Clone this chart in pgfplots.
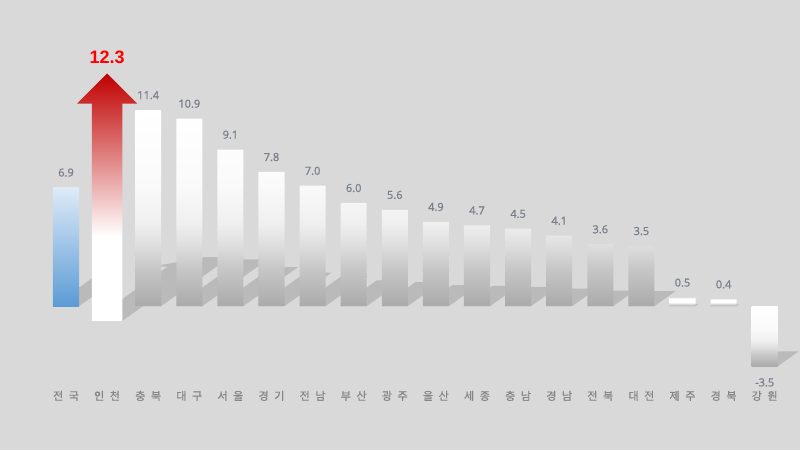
\documentclass[border=0pt]{standalone}
\usepackage{fontspec}
\setmainfont{Noto Sans CJK KR}
\newfontfamily\labfont{Noto Sans CJK KR}[FakeBold=0.8]
\newfontfamily\valfont{Open Sans}[FakeBold=1.2]
\newfontfamily\redfont{Liberation Sans}
\usepackage{pgfplots}
\pgfplotsset{compat=1.18}

\definecolor{bgc}{HTML}{D9D9D9}
\definecolor{valgray}{HTML}{7A808A}
\definecolor{labgray}{HTML}{858585}
\definecolor{gb1}{HTML}{AAAAAA}
\definecolor{gb2}{HTML}{C8C8C8}
\definecolor{gb3}{HTML}{DCDCDC}
\definecolor{gb4}{HTML}{EFEFEF}
\definecolor{gb5}{HTML}{FAFAFA}
\definecolor{bl1}{HTML}{5B9BD5}
\definecolor{bl2}{HTML}{DEEBF7}
\definecolor{rd1}{HTML}{C00000}

% gradients (box of a path = 25bp..75bp)
\pgfdeclareverticalshading{graybar}{100bp}{color(0bp)=(gb1); color(25bp)=(gb1); color(35bp)=(gb2); color(40bp)=(gb3); color(46bp)=(gb4); color(56bp)=(gb5); color(75bp)=(white); color(100bp)=(white)}
\pgfdeclareverticalshading{smallbar}{100bp}{color(0bp)=(gb1); color(25bp)=(gb1); color(38bp)=(gb3); color(48bp)=(white); color(70bp)=(white); color(75bp)=(gb4); color(100bp)=(gb4)}
\pgfdeclareverticalshading{bluebar}{100bp}{color(0bp)=(bl1); color(25bp)=(bl1); color(75bp)=(bl2); color(100bp)=(bl2)}
\pgfdeclareverticalshading{redarrow}{100bp}{color(0bp)=(white); color(42bp)=(white); color(75bp)=(rd1); color(100bp)=(rd1)}

\newcommand{\g}{\hspace{0.5em}}

\begin{document}
\begin{tikzpicture}
\fill[bgc] (0,-48pt) rectangle (600pt,289.5pt);
\begin{axis}[
  scale only axis,
  width=600pt, height=289.5pt,
  xmin=-1.606, xmax=17.859,
  ymin=-4.65, ymax=17.79,
  clip=false,
  axis line style={draw=none},
  major tick length=0pt,
  ytick=\empty,
  xtick={0,...,17},
  xticklabels={전\g 국,인\g 천,충\g 북,대\g 구,서\g 울,경\g 기,전\g 남,부\g 산,광\g 주,울\g 산,세\g 종,충\g 남,경\g 남,전\g 북,대\g 전,제\g 주,경\g 북,강\g 원},
  xticklabel style={font=\labfont\fontsize{8.3}{10}\selectfont, text=labgray},
  bar width=0.633,
  every node near coord/.append style={text=valgray, font=\valfont\fontsize{8.25}{10}\selectfont},
]

% perspective shadows
\addplot[draw=none, fill=black, fill opacity=0.14, empty line=jump] coordinates {
(-0.316,0) (0.316,0) (1.327,1.725) (0.695,1.725)

(0.627,-0.855) (1.373,-0.855) (3.224,2.304) (3.581,2.304) (3.107,2.741) (2.121,2.304) (2.478,2.304)

(1.684,0) (2.316,0) (3.986,2.85) (3.354,2.85)

(2.684,0) (3.316,0) (4.913,2.725) (4.281,2.725)

(3.684,0) (4.316,0) (5.649,2.275) (5.017,2.275)

(4.684,0) (5.316,0) (6.459,1.95) (5.827,1.95)

(5.684,0) (6.316,0) (7.342,1.75) (6.710,1.75)

(6.684,0) (7.316,0) (8.195,1.5) (7.563,1.5)

(7.684,0) (8.316,0) (9.136,1.4) (8.504,1.4)

(8.684,0) (9.316,0) (10.034,1.225) (9.402,1.225)

(9.684,0) (10.316,0) (11.005,1.175) (10.373,1.175)

(10.684,0) (11.316,0) (11.975,1.125) (11.343,1.125)

(11.684,0) (12.316,0) (12.917,1.025) (12.285,1.025)

(12.684,0) (13.316,0) (13.843,0.9) (13.211,0.9)

(13.684,0) (14.316,0) (14.829,0.875) (14.197,0.875)

(14.684,0) (15.316,0) (15.389,0.125) (14.757,0.125)

(15.684,0) (16.316,0) (16.375,0.1) (15.743,0.1)

(16.684,-3.5) (17.316,-3.5) (17.829,-2.625) (17.197,-2.625)
};

% national average
\addplot[ybar, bar shift=0pt, draw=none, shading=bluebar,
  nodes near coords, point meta=explicit symbolic,
  every node near coord/.append style={anchor=base, yshift=8.25pt}]
  coordinates {(0,6.9) [6.9]};

% regions, positive
\addplot[ybar, bar shift=0pt, draw=none, shading=graybar,
  nodes near coords, point meta=explicit symbolic,
  every node near coord/.append style={anchor=base, yshift=8.25pt}]
  coordinates {
  (2,11.4) [11.4]
  (3,10.9) [10.9]
  (4,9.1) [9.1]
  (5,7.8) [7.8]
  (6,7.0) [7.0]
  (7,6.0) [6.0]
  (8,5.6) [5.6]
  (9,4.9) [4.9]
  (10,4.7) [4.7]
  (11,4.5) [4.5]
  (12,4.1) [4.1]
  (13,3.6) [3.6]
  (14,3.5) [3.5]
  };

% regions, small positive
\addplot[ybar, bar shift=0pt, draw=none, shading=smallbar,
  nodes near coords, point meta=explicit symbolic,
  every node near coord/.append style={anchor=base, yshift=8.25pt}]
  coordinates {
  (15,0.5) [0.5]
  (16,0.4) [0.4]
  };

% region, negative
\addplot[ybar, bar shift=0pt, draw=none, shading=graybar,
  nodes near coords, point meta=explicit symbolic,
  every node near coord/.append style={anchor=base, yshift=-15pt}]
  coordinates {(17,-3.5) [-3.5]};

% Incheon arrow (12.3)
\addplot[draw=none, shading=redarrow] coordinates {
  (0.627,-0.855) (1.373,-0.855) (1.373,11.78) (1.73,11.78) (1,13.53) (0.27,11.78) (0.627,11.78) (0.627,-0.855)
};
\addplot[draw=none, mark=none, nodes near coords, point meta=explicit symbolic,
  every node near coord/.append style={anchor=base, yshift=7.5pt, text=red, font=\redfont\bfseries\fontsize{13.5}{16}\selectfont}]
  coordinates {(1,13.53) [12.3]};

\end{axis}
\end{tikzpicture}
\end{document}
